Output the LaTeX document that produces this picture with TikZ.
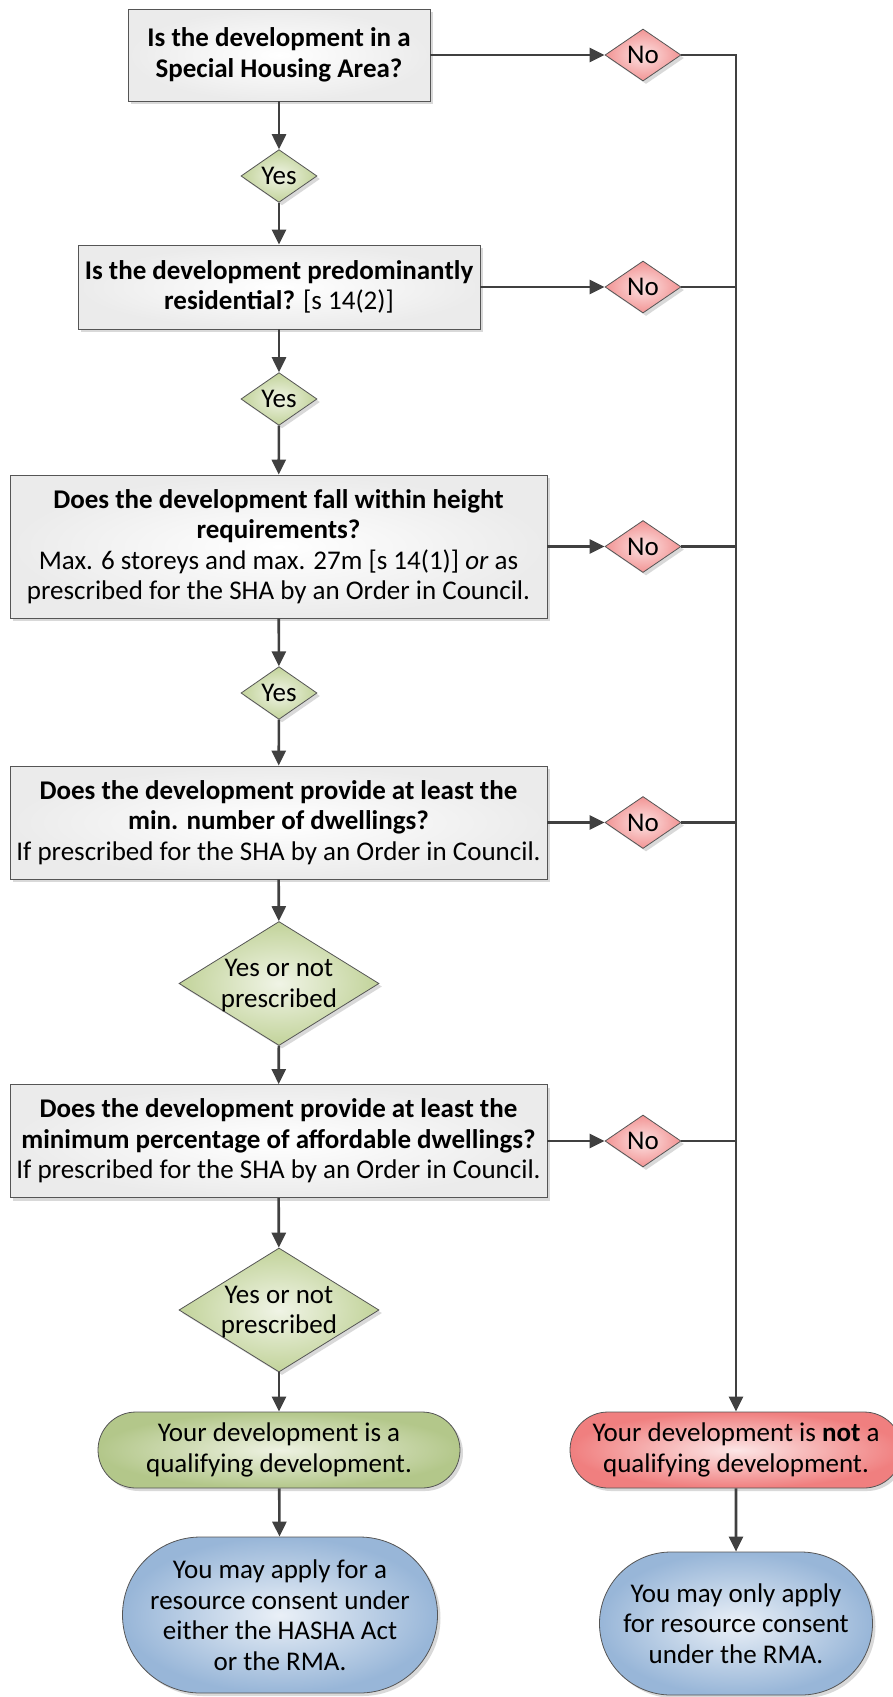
\documentclass[tikz,border=0pt]{standalone}
\usepackage{fontspec}
\setmainfont{Carlito}
\usetikzlibrary{shapes.geometric,shapes.misc,arrows.meta,shadows}

\definecolor{linec}{HTML}{404040}
\definecolor{edgec}{HTML}{555555}
\definecolor{boxout}{HTML}{EBEBEB}
\definecolor{yesout}{HTML}{C2D39A}
\definecolor{yesin}{HTML}{F0F4E6}
\definecolor{noout}{HTML}{F29494}
\definecolor{noin}{HTML}{FCE2E2}
\definecolor{qout}{HTML}{B3C78A}
\definecolor{qin}{HTML}{EEF2E2}
\definecolor{nqout}{HTML}{F07F7F}
\definecolor{nqin}{HTML}{FCE6E6}
\definecolor{bout}{HTML}{98B6D8}
\definecolor{bin}{HTML}{EAF0F7}

\tikzset{
  txt/.style={font=\fontsize{27}{30.5}\selectfont, align=center, text=black},
  shade/.style={drop shadow={shadow xshift=3pt, shadow yshift=-3pt, fill=black, opacity=0.15}},
  qbox/.style={txt, shape=rectangle, draw=edgec, line width=0.8pt, shade,
    inner color=white, outer color=boxout, inner sep=0pt},
  yesdia/.style={txt, shape=diamond, draw=edgec, line width=0.8pt, shade,
    inner color=yesin, outer color=yesout, inner sep=0pt},
  bigdia/.style={yesdia, shape aspect=1.6, inner sep=-4pt, text depth=0pt,
    minimum width=200pt, minimum height=124pt},
  nodia/.style={txt, shape=diamond, draw=edgec, line width=0.8pt, shade,
    inner color=noin, outer color=noout, inner sep=0pt,
    minimum width=76pt, minimum height=52pt},
  term/.style={txt, shape=rounded rectangle, draw=edgec, line width=0.8pt, shade, inner sep=0pt},
  conn/.style={draw=linec, line width=2.6pt},
  arr/.style={conn, -{Triangle[length=15pt,width=14pt]}},
}

\begin{document}
\begin{tikzpicture}[x=1pt, y=-1pt]
\useasboundingbox (0,0) rectangle (893,1697);

% question boxes down the left column
\node[qbox, minimum width=302pt, minimum height=92pt] (b1) at (279,55)
  {{\bfseries Is the development in a}\\{\bfseries Special Housing Area?}};
\node[qbox, minimum width=402pt, minimum height=84pt] (b2) at (279,287)
  {{\bfseries Is the development predominantly}\\{\bfseries residential?} [s 14(2)]};
\node[qbox, minimum width=537pt, minimum height=143pt] (b3) at (278.5,546.5)
  {{\bfseries Does the development fall within height}\\{\bfseries requirements?}\\
   Max. 6 storeys and max. 27m [s 14(1)] \textit{or} as\\prescribed for the SHA by an Order in Council.};
\node[qbox, minimum width=537pt, minimum height=113pt] (b4) at (278.5,822.5)
  {{\bfseries Does the development provide at least the}\\{\bfseries min. number of dwellings?}\\
   If prescribed for the SHA by an Order in Council.};
\node[qbox, minimum width=537pt, minimum height=113pt] (b5) at (278.5,1141)
  {{\bfseries Does the development provide at least the}\\{\bfseries minimum percentage of affordable dwellings?}\\
   If prescribed for the SHA by an Order in Council.};

% yes decisions
\node[yesdia, minimum width=76pt, minimum height=51pt] (y1) at (279,176) {Yes};
\node[yesdia, minimum width=76pt, minimum height=51pt] (y2) at (279,399) {Yes};
\node[yesdia, minimum width=76pt, minimum height=51pt] (y3) at (279,693) {Yes};
\node[bigdia] (y4) at (279,983.5) {Yes or not\\prescribed};
\node[bigdia] (y5) at (279,1310) {Yes or not\\prescribed};

% no decisions
\node[nodia] (n1) at (643,55) {No};
\node[nodia] (n2) at (643,287) {No};
\node[nodia] (n3) at (643,546.5) {No};
\node[nodia] (n4) at (643,822.5) {No};
\node[nodia] (n5) at (643,1141) {No};

% outcomes
\node[term, inner color=qin, outer color=qout, minimum width=362pt, minimum height=76pt] (q) at (279,1450)
  {Your development is a\\qualifying development.};
\node[term, inner color=bin, outer color=bout, minimum width=315pt, minimum height=156pt] (qa) at (280,1615)
  {You may apply for a\\resource consent under\\either the HASHA Act\\or the RMA.};
\node[term, inner color=nqin, outer color=nqout, minimum width=332pt, minimum height=76pt] (nq) at (736,1450)
  {Your development is \textbf{not} a\\qualifying development.};
\node[term, inner color=bin, outer color=bout, minimum width=273pt, minimum height=143pt] (nqa) at (736,1623.5)
  {You may only apply\\for resource consent\\under the RMA.};

% main column
\draw[arr] (b1) -- (y1);
\draw[arr] (y1) -- (b2);
\draw[arr] (b2) -- (y2);
\draw[arr] (y2) -- (b3);
\draw[arr] (b3) -- (y3);
\draw[arr] (y3) -- (b4);
\draw[arr] (b4) -- (y4);
\draw[arr] (y4) -- (b5);
\draw[arr] (b5) -- (y5);
\draw[arr] (y5) -- (q);
\draw[arr] (q) -- (qa);

% branches to the right
\coordinate (rail) at (736,55);
\draw[arr] (b1) -- (n1);
\draw[arr] (b2) -- (n2);
\draw[arr] (b3) -- (n3);
\draw[arr] (b4) -- (n4);
\draw[arr] (b5) -- (n5);
\draw[arr] (n1.east) -- (rail) -- (nq.north);
\draw[conn] (n2.east) -- (n2.east -| rail);
\draw[conn] (n3.east) -- (n3.east -| rail);
\draw[conn] (n4.east) -- (n4.east -| rail);
\draw[conn] (n5.east) -- (n5.east -| rail);
\draw[arr] (nq) -- (nqa);
\end{tikzpicture}
\end{document}
